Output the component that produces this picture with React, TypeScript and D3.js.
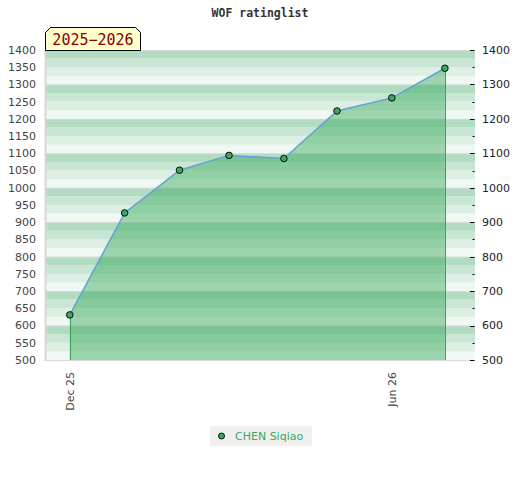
import * as d3 from "d3";
import { useEffect, useRef } from "react";

const dates = ["2025-12-01", "2026-01-01", "2026-02-01", "2026-03-01", "2026-04-01", "2026-05-01", "2026-06-01", "2026-07-01"];
const ratings = [631, 927, 1051, 1094, 1085, 1223, 1261, 1347];
const tickDates = ["2025-12-01", "2026-06-01"];
const playerName = "CHEN Siqiao";
const seasonLabel = "2025\u22122026";
const title = "WOF ratinglist";
const bandColors = ["#b2dcc2", "#c8e6d3", "#ddefe3", "#eff8f2"];

export default function App() {
  const ref = useRef<SVGSVGElement | null>(null);

  useEffect(() => {
    document.body.style.margin = "0";
    if (!ref.current) return;

    const width = 520;
    const height = 480;
    const left = 45;
    const right = 475;
    const top = 50;
    const bottom = 360;
    const svg = d3.select(ref.current);
    svg.selectAll("*").remove();

    const parse = d3.utcParse("%Y-%m-%d");
    const points = dates.map((d, i) => ({ date: parse(d) as Date, value: ratings[i] }));
    const first = points[0].date;
    const last = points[points.length - 1].date;

    const x = d3
      .scaleUtc()
      .domain([d3.utcDay.offset(first, -14), d3.utcDay.offset(last, 17)])
      .range([left, right]);
    const y = d3.scaleLinear().domain([500, 1400]).range([bottom, top]);

    // striped background, 4 bands per 100 points
    const bands = d3.range(500, 1400, 25);
    svg
      .append("g")
      .selectAll("rect")
      .data(bands)
      .join("rect")
      .attr("x", left)
      .attr("width", right - left)
      .attr("y", (d) => y(d + 25))
      .attr("height", (d) => y(d) - y(d + 25))
      .attr("fill", (d) => bandColors[3 - ((d - 500) / 25) % 4]);

    svg
      .append("g")
      .selectAll("line")
      .data(d3.range(500, 1401, 100))
      .join("line")
      .attr("x1", left)
      .attr("x2", right)
      .attr("y1", (d) => y(d) + 0.5)
      .attr("y2", (d) => y(d) + 0.5)
      .attr("stroke", "#d8d8d8");

    svg
      .append("line")
      .attr("x1", left + 0.5)
      .attr("x2", left + 0.5)
      .attr("y1", top)
      .attr("y2", bottom + 1)
      .attr("stroke", "#d8d8d8")
      .attr("stroke-width", 2);

    const area = d3
      .area<{ date: Date; value: number }>()
      .x((d) => x(d.date))
      .y0(bottom)
      .y1((d) => y(d.value));
    svg
      .append("path")
      .attr("d", area(points))
      .attr("fill", "#2ea553")
      .attr("fill-opacity", 0.43);

    [points[0], points[points.length - 1]].forEach((p) => {
      svg
        .append("line")
        .attr("x1", Math.round(x(p.date)) + 0.5)
        .attr("x2", Math.round(x(p.date)) + 0.5)
        .attr("y1", y(p.value))
        .attr("y2", bottom)
        .attr("stroke", "#35a35a");
    });

    const line = d3
      .line<{ date: Date; value: number }>()
      .x((d) => x(d.date))
      .y((d) => y(d.value));
    svg
      .append("path")
      .attr("d", line(points))
      .attr("fill", "none")
      .attr("stroke", "#5fa3d6")
      .attr("stroke-width", 1.5);

    svg
      .append("g")
      .selectAll("circle")
      .data(points)
      .join("circle")
      .attr("cx", (d) => x(d.date))
      .attr("cy", (d) => y(d.value))
      .attr("r", 3.3)
      .attr("fill", "#3aa862")
      .attr("stroke", "#000")
      .attr("stroke-width", 0.9);

    // left labels
    const labelTicks = d3.range(500, 1401, 50);
    svg
      .append("g")
      .selectAll("text")
      .data(labelTicks)
      .join("text")
      .attr("x", 36)
      .attr("y", (d) => y(d))
      .attr("dy", "0.35em")
      .attr("text-anchor", "end")
      .attr("font-family", "DejaVu Sans")
      .attr("font-size", 11)
      .attr("fill", "#444")
      .text((d) => d);

    // right axis
    const rightAxis = svg.append("g");
    rightAxis
      .selectAll("line")
      .data(labelTicks)
      .join("line")
      .attr("x1", (d) => (d % 100 === 0 ? right - 5 : right - 2.5))
      .attr("x2", right - 0.5)
      .attr("y1", (d) => Math.round(y(d)) + 0.5)
      .attr("y2", (d) => Math.round(y(d)) + 0.5)
      .attr("stroke", "#000");
    rightAxis
      .selectAll("text")
      .data(d3.range(500, 1401, 100))
      .join("text")
      .attr("x", 482)
      .attr("y", (d) => y(d))
      .attr("dy", "0.35em")
      .attr("font-family", "DejaVu Sans")
      .attr("font-size", 11)
      .attr("fill", "#222")
      .text((d) => d);

    // x tick labels
    const fmt = d3.utcFormat("%b %y");
    svg
      .append("g")
      .selectAll("text")
      .data(tickDates.map((d) => parse(d) as Date))
      .join("text")
      .attr("transform", (d) => `translate(${x(d)},372) rotate(-90)`)
      .attr("dy", "0.35em")
      .attr("text-anchor", "end")
      .attr("font-family", "DejaVu Sans")
      .attr("font-size", 11)
      .attr("fill", "#444")
      .text((d) => fmt(d));

    // title
    svg
      .append("text")
      .attr("x", 260)
      .attr("y", 17)
      .attr("text-anchor", "middle")
      .attr("font-family", "DejaVu Sans Mono")
      .attr("font-weight", "bold")
      .attr("font-size", 11.5)
      .attr("fill", "#333")
      .text(title);

    // season tag
    const tag = svg.append("g");
    const tx0 = 45.5;
    const tx1 = 140.5;
    const ty0 = 27.5;
    const ty1 = 50.5;
    tag
      .append("path")
      .attr(
        "d",
        `M${tx0},${ty1} L${tx0},${ty0 + 5} L${tx0 + 5},${ty0} L${tx1 - 5},${ty0} L${tx1},${ty0 + 5} L${tx1},${ty1} Z`
      )
      .attr("fill", "#ffffcc")
      .attr("stroke", "#000");
    tag
      .append("text")
      .attr("x", (tx0 + tx1) / 2)
      .attr("y", 45)
      .attr("text-anchor", "middle")
      .attr("font-family", "DejaVu Sans Mono")
      .attr("font-size", 15)
      .attr("fill", "#8b0000")
      .text(seasonLabel);

    // legend
    const legend = svg.append("g");
    legend
      .append("rect")
      .attr("x", 210)
      .attr("y", 426)
      .attr("width", 102)
      .attr("height", 20)
      .attr("fill", "#f0f0f0");
    legend
      .append("circle")
      .attr("cx", 221.5)
      .attr("cy", 436)
      .attr("r", 3)
      .attr("fill", "#3aa862")
      .attr("stroke", "#000")
      .attr("stroke-width", 0.9);
    legend
      .append("text")
      .attr("x", 235)
      .attr("y", 436)
      .attr("dy", "0.35em")
      .attr("font-family", "DejaVu Sans")
      .attr("font-size", 11)
      .attr("fill", "#3aa862")
      .text(playerName);

    svg.attr("viewBox", `0 0 ${width} ${height}`);
  }, []);

  return <svg ref={ref} width={520} height={480} style={{ display: "block" }} aria-label="rating chart" />;
}
